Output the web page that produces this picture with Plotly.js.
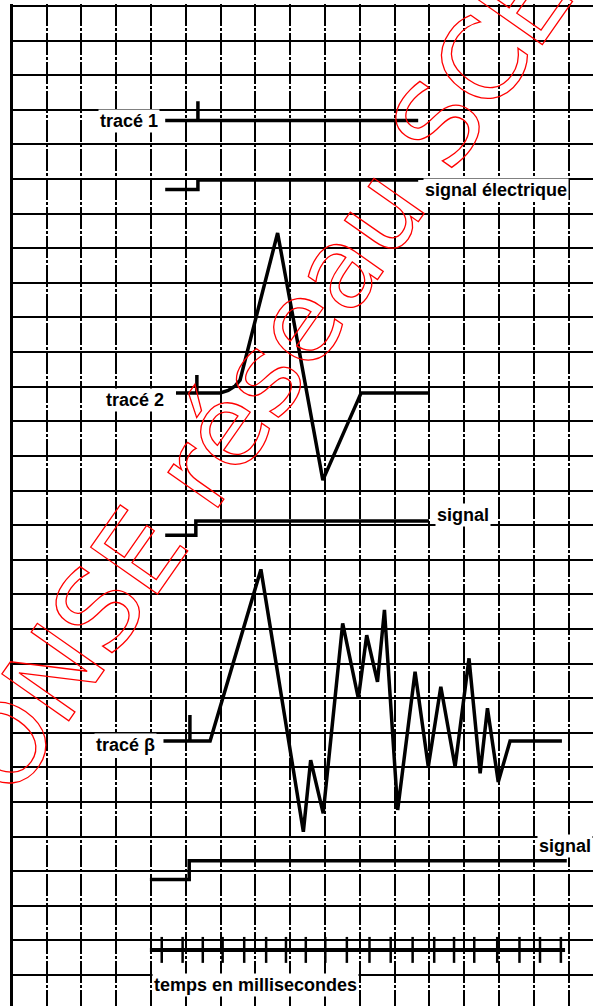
<!DOCTYPE html>
<html><head><meta charset="utf-8">
<script src="https://cdn.plot.ly/plotly-3.0.1.min.js"></script>
<style>html,body{margin:0;padding:0;background:#fff;overflow:hidden}#chart{width:593px;height:1006px}</style>
</head><body><div id="chart"></div>
<script>
// Units: x = grid columns from the left border, y = grid rows counted from the top line
const trace1X = [4.41, 5.35, 5.35, 5.35, 11.68];
const trace1Y = [3.31, 3.31, 2.75, 3.31, 3.31];
const signal1X = [4.41, 5.35, 5.35, 11.68];
const signal1Y = [5.30, 5.30, 5.03, 5.03];
const trace2X = [4.72, 5.32, 5.32, 5.32, 5.99, 6.22, 6.42, 6.56, 7.64, 8.94, 10.04, 11.97];
const trace2Y = [11.18, 11.18, 10.66, 11.18, 11.18, 11.11, 10.98, 10.81, 6.56, 13.70, 11.18, 11.18];
const signal2X = [4.41, 5.29, 5.29, 11.99];
const signal2Y = [15.29, 15.29, 14.88, 14.88];
const trace3X = [4.36, 5.12, 5.12, 5.12, 5.70, 7.16, 8.38, 8.59, 8.95, 9.51, 9.96, 10.20, 10.51, 10.71, 11.09, 11.59, 11.97, 12.33, 12.74, 13.14, 13.46, 13.67, 13.98, 14.32, 15.81];
const trace3Y = [21.24, 21.24, 20.49, 21.24, 21.24, 16.28, 23.86, 21.79, 23.33, 17.84, 20.01, 18.18, 19.53, 17.45, 23.23, 19.24, 21.98, 19.67, 21.98, 18.85, 22.17, 20.29, 22.42, 21.24, 21.24];
const signal3X = [3.97, 5.10, 5.10, 15.95];
const signal3Y = [25.24, 25.24, 24.70, 24.70];
const timeLineX = [3.97, 15.90];
const timeLineY = [27.28, 27.28];
const timeTicks = [4.31, 4.91, 5.49, 6.06, 6.68, 7.31, 7.88, 8.45, 9.01, 9.63, 10.28, 10.89, 11.52, 12.14, 12.71, 13.29, 13.95, 14.59, 15.18, 15.78];
const tickSpan = [26.90, 27.65];

const labelTexts = ['tracé 1', 'signal électrique', 'tracé 2', 'signal', 'tracé β', 'signal', 'temps en millisecondes'];
const labelX = [4.26, 11.82, 4.43, 12.16, 4.17, 15.10, 4.03];
const labelY = [3.32, 5.32, 11.39, 14.71, 21.35, 24.27, 28.29];
const labelSide = ['right', 'left', 'right', 'left', 'right', 'left', 'left'];

const watermarkText = 'RÉPONSE réseau SCÉRÉN';
const watermarkPos = [7.32, 10.50];

const tickX = [], tickY = [];
timeTicks.forEach(t => { tickX.push(t, t, null); tickY.push(tickSpan[0], tickSpan[1], null); });

function tr(x, y, w) {
  return {x: x, y: y, type: 'scatter', mode: 'lines', hoverinfo: 'skip',
          line: {color: '#000', width: w || 3.5}};
}
const data = [
  tr(trace1X, trace1Y), tr(signal1X, signal1Y),
  tr(trace2X, trace2Y), tr(signal2X, signal2Y),
  tr(trace3X, trace3Y), tr(signal3X, signal3Y),
  tr(timeLineX, timeLineY, 4), tr(tickX, tickY, 2.5)
];

const annotations = labelTexts.map((t, i) => ({
  x: labelX[i], y: labelY[i], xref: 'x', yref: 'y', text: t, showarrow: false,
  xanchor: labelSide[i], yanchor: 'middle', bgcolor: '#fff', borderpad: 1,
  font: {family: 'Liberation Sans, Arial, sans-serif', size: 18, color: '#000', weight: 'bold'}
}));
annotations.push({
  x: watermarkPos[0], y: watermarkPos[1], xref: 'x', yref: 'y', text: watermarkText,
  showarrow: false, textangle: -55, xanchor: 'center', yanchor: 'middle',
  font: {family: 'DejaVu Sans', size: 112, color: 'rgba(0,0,0,0)'}
});

const layout = {
  width: 593, height: 1006,
  margin: {l: 10, r: 0, t: 4, b: 0, pad: 0},
  paper_bgcolor: '#fff', plot_bgcolor: '#fff', showlegend: false,
  xaxis: {range: [-0.05, 16.703], showgrid: true, dtick: 1, tick0: 0, gridcolor: '#000', gridwidth: 2,
          griddash: '22px,2px,3px,2px', zeroline: true, zerolinecolor: '#000', zerolinewidth: 2.5,
          showticklabels: false, ticks: '', showline: false, fixedrange: true},
  yaxis: {range: [28.896, -0.058], showgrid: true, dtick: 1, tick0: 0, gridcolor: '#000', gridwidth: 2,
          zeroline: true, zerolinecolor: '#000', zerolinewidth: 2.5,
          showticklabels: false, ticks: '', showline: false, fixedrange: true},
  annotations: annotations
};

Plotly.newPlot('chart', data, layout, {staticPlot: true, displayModeBar: false}).then(() => {
  document.querySelectorAll('.annotation-text').forEach(el => {
    if (el.textContent.indexOf('réseau') >= 0) {
      el.style.fill = 'none';
      el.style.stroke = '#ff0000';
      el.style.strokeWidth = '1.3px';
    }
  });
});
</script></body></html>
